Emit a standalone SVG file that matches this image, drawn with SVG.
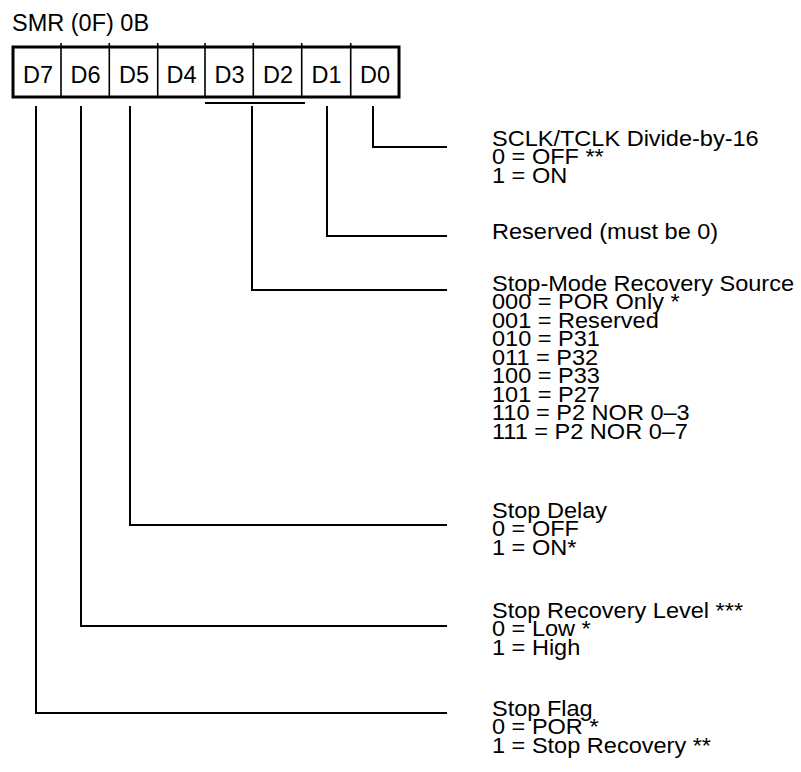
<svg xmlns="http://www.w3.org/2000/svg" width="801" height="772" viewBox="0 0 801 772">
<style>
text{font-family:"Liberation Sans",Arial,sans-serif;fill:#000}
.t{font-size:23.5px}
.c{font-size:23.5px;text-anchor:middle}
.d{font-size:22px}
.ln{stroke:#000;stroke-width:2;fill:none}
.dv{stroke:#000;stroke-width:1.6;fill:none}
</style>
<rect width="801" height="772" fill="#fff"/>
<g id="title"><text class="t" x="12" y="31">SMR (0F) 0B</text></g>
<g id="register">
<rect x="13" y="47" width="386" height="50" fill="none" stroke="#000" stroke-width="3"/>
<path class="dv" d="M61 43V97M109.3 43V97M157.7 43V97M205 43V97M253.3 43V97M301.7 43V97M350.7 43V97"/>
<text class="c" x="38" y="83">D7</text>
<text class="c" x="85.5" y="83">D6</text>
<text class="c" x="134" y="83">D5</text>
<text class="c" x="181.5" y="83">D4</text>
<text class="c" x="229.5" y="83">D3</text>
<text class="c" x="278" y="83">D2</text>
<text class="c" x="326.5" y="83">D1</text>
<text class="c" x="375" y="83">D0</text>
<path class="ln" d="M205 103H305"/>
</g>
<g id="connectors">
<path class="ln" d="M373 106V147H447"/>
<path class="ln" d="M327 106V236H447"/>
<path class="ln" d="M252 106V290H447"/>
<path class="ln" d="M130 106V525H447"/>
<path class="ln" d="M81 106V626H447"/>
<path class="ln" d="M36 106V713H447"/>
</g>
<g id="d0" transform="translate(492 0) scale(1.07 1)">
<text class="d" x="0" y="146">SCLK/TCLK Divide-by-16</text>
<text class="d" x="0" y="164.5">0 = OFF **</text>
<text class="d" x="0" y="183">1 = ON</text>
</g>
<g id="d1" transform="translate(492 0) scale(1.07 1)">
<text class="d" x="0" y="239">Reserved (must be 0)</text>
</g>
<g id="d32" transform="translate(492 0) scale(1.07 1)">
<text class="d" x="0" y="291">Stop-Mode Recovery Source</text>
<text class="d" x="0" y="309.5">000 = POR Only *</text>
<text class="d" x="0" y="328">001 = Reserved</text>
<text class="d" x="0" y="346.5">010 = P31</text>
<text class="d" x="0" y="365">011 = P32</text>
<text class="d" x="0" y="383.5">100 = P33</text>
<text class="d" x="0" y="402">101 = P27</text>
<text class="d" x="0" y="420.5">110 = P2 NOR 0–3</text>
<text class="d" x="0" y="439">111 = P2 NOR 0–7</text>
</g>
<g id="d5" transform="translate(492 0) scale(1.07 1)">
<text class="d" x="0" y="518">Stop Delay</text>
<text class="d" x="0" y="536.5">0 = OFF</text>
<text class="d" x="0" y="555">1 = ON*</text>
</g>
<g id="d6" transform="translate(492 0) scale(1.07 1)">
<text class="d" x="0" y="618">Stop Recovery Level ***</text>
<text class="d" x="0" y="636.5">0 = Low *</text>
<text class="d" x="0" y="655">1 = High</text>
</g>
<g id="d7" transform="translate(492 0) scale(1.07 1)">
<text class="d" x="0" y="716">Stop Flag</text>
<text class="d" x="0" y="734.5">0 = POR *</text>
<text class="d" x="0" y="753">1 = Stop Recovery **</text>
</g>
</svg>
